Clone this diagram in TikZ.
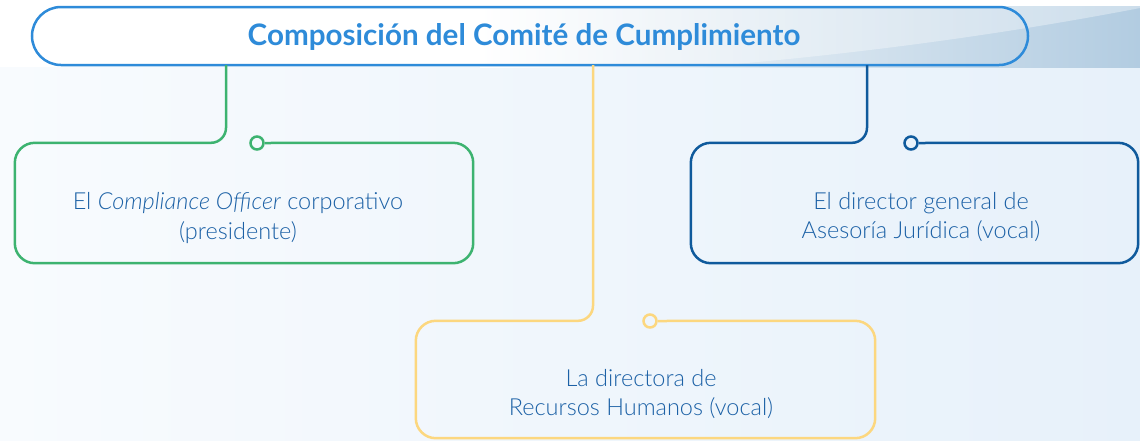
\documentclass[tikz,border=0pt]{standalone}
\usepackage{fontspec}
\setmainfont{Lato}
\newfontfamily\bodyfont{Lato Light}[ItalicFont={Lato Light Italic}]
\usetikzlibrary{calc}
\definecolor{bgL}{HTML}{F8FBFE}
\definecolor{bgR}{HTML}{E7F1FA}
\definecolor{bandR}{HTML}{B2CCE1}
\definecolor{titleblue}{HTML}{2E8BD9}
\definecolor{cgreen}{HTML}{3DB370}
\definecolor{cdark}{HTML}{0F5A9C}
\definecolor{cyellow}{HTML}{FCD77F}
\definecolor{txt}{HTML}{1C61A6}
\tikzset{
  boxnode/.style={draw=none, minimum width=458pt, minimum height=120pt, inner sep=0pt},
  boxtext/.style={align=center, text=txt, font=\bodyfont\fontsize{23.5}{29.5}\selectfont},
  outline/.style={line width=2.5pt},
  dot/.style={circle, draw, line width=2.5pt, minimum size=13pt, inner sep=0pt, fill=none},
}
\begin{document}
\begin{tikzpicture}[x=1pt,y=-1pt]
\useasboundingbox (0,0) rectangle (1140,440);
% background
\fill[left color=bgL, right color=bgR] (0,0) rectangle (1140,440);
\fill[white] (0,0) rectangle (1140,6);
\fill[white] (0,6) rectangle (480,67);
\shade[left color=white, right color=bandR] (480,6) rectangle (1140,67);
\fill[white, opacity=0.35] (480,67) -- (700,67) .. controls (850,55) and (1000,35) .. (1140,8) -- (1140,6) -- (480,6) -- cycle;
% title
\node[draw=titleblue, line width=2.5pt, rounded corners=29pt, minimum width=996pt, minimum height=58pt] (title) at (530,36) {};
\node[text=titleblue, font=\bfseries\fontsize{29.6}{34}\selectfont] (titletext) at (524,37) {Composición del Comité de Cumplimiento};
% boxes
\node[boxnode] (b1) at (244,203) {};
\node[boxnode, minimum width=447pt] (b2) at (914.5,203) {};
\node[boxnode, minimum width=459pt, minimum height=117pt] (b3) at (645.5,379.5) {};
\node[boxtext] (b1t) at (238,218) {El \textit{Compliance Officer} corporativo\\(presidente)};
\node[boxtext] (b2t) at (921,217) {El director general de\\Asesoría Jurídica (vocal)};
\node[boxtext] (b3t) at (641,394) {La directora de\\Recursos Humanos (vocal)};
% dots
\node[dot, draw=cgreen] (d1) at (257,143) {};
\node[dot, draw=cdark] (d2) at (911,143) {};
\node[dot, draw=cyellow] (d3) at (650,321) {};
% anchors on title for connectors
\coordinate (t1) at (226,65);
\coordinate (t2) at (867,65);
\coordinate (t3) at (593,65);
% outlines + connectors
\draw[outline, cgreen, rounded corners=20pt] (d1.east) -- (b1.north east) -- (b1.south east) -- (b1.south west) -- (b1.north west) [rounded corners=15pt] -- (b1.north -| t1) -- (t1);
\draw[outline, cdark, rounded corners=20pt] (d2.east) -- (b2.north east) -- (b2.south east) -- (b2.south west) -- (b2.north west) [rounded corners=15pt] -- (b2.north -| t2) -- (t2);
\draw[outline, cyellow, rounded corners=20pt] (d3.east) -- (b3.north east) -- (b3.south east) -- (b3.south west) -- (b3.north west) [rounded corners=15pt] -- (b3.north -| t3) -- (t3);
\end{tikzpicture}
\end{document}
